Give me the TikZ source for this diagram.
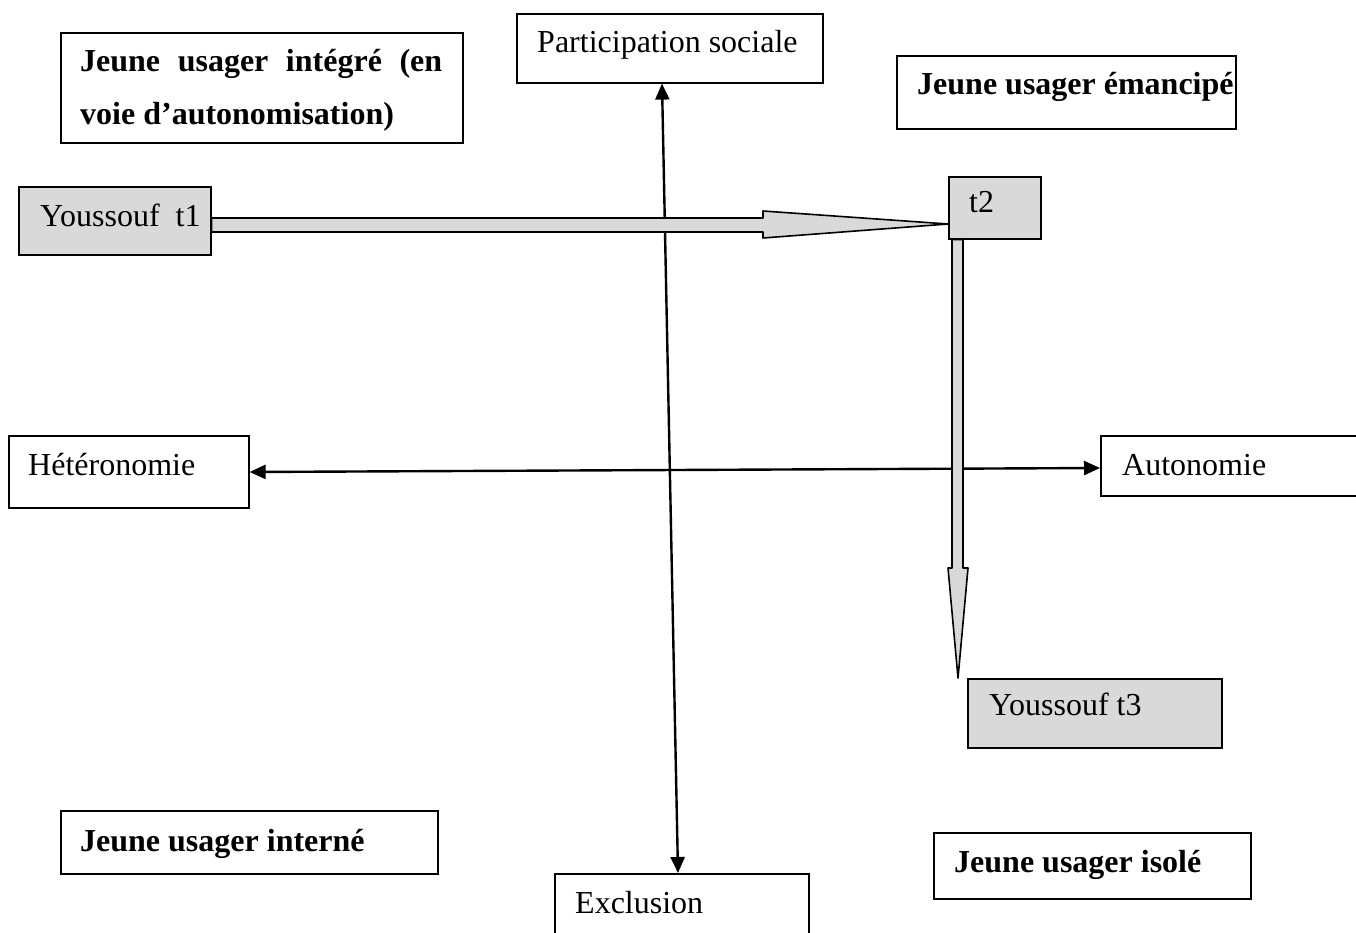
\documentclass[tikz,border=0pt]{standalone}
\usepackage{fontspec}
\setmainfont{Liberation Serif}
\usetikzlibrary{arrows.meta,calc}
\definecolor{boxgray}{HTML}{D9D9D9}
\begin{document}
\begin{tikzpicture}[x=1pt,y=-1pt,
  frame/.style={draw, line width=1.6pt, inner sep=0pt, anchor=north west},
  shaded/.style={frame, fill=boxgray},
  lbl/.style={anchor=base west, inner sep=0pt, font=\fontsize{32}{53}\selectfont},
  blbl/.style={anchor=base west, inner sep=0pt, font=\fontsize{32}{53}\selectfont\bfseries},
  axis/.style={line width=2.4pt, {Triangle[length=16pt,width=14pt]}-{Triangle[length=16pt,width=14pt]}},
  fat/.style={draw, line width=1.6pt, fill=boxgray, line join=round}]
\useasboundingbox (0,0) rectangle (1356,933);

% frames
\node[frame, minimum width=402pt, minimum height=110pt] (integre) at (60,32) {};
\node[frame, minimum width=306pt, minimum height=69pt] (part) at (516,13) {};
\node[frame, minimum width=339pt, minimum height=73pt] (emanc) at (896,55) {};
\node[shaded, minimum width=192pt, minimum height=68pt] (y1) at (18,186) {};
\node[shaded, minimum width=92pt, minimum height=62pt] (t2) at (948,176) {};
\node[frame, minimum width=240pt, minimum height=72pt] (hetero) at (8,435) {};
\node[frame, minimum width=270pt, minimum height=60pt] (auto) at (1100,435) {};
\node[shaded, minimum width=254pt, minimum height=69pt] (y3) at (967,678) {};
\node[frame, minimum width=377pt, minimum height=63pt] (interne) at (60,810) {};
\node[frame, minimum width=254pt, minimum height=80pt] (excl) at (554,873) {};
\node[frame, minimum width=317pt, minimum height=66pt] (isole) at (933,832) {};

% texts
\node[blbl, text width=362pt, align=justify] (tintegre) at (80,72)
  {Jeune usager intégré (en\linebreak voie d’autonomisation)};
\node[lbl] (tpart) at (537,53) {Participation sociale};
\node[blbl] (temanc) at (917,95) {Jeune usager émancipé};
\node[lbl] (ty1) at (40,227) {Youssouf\ \ t1};
\node[lbl] (tt2) at (969,213) {t2};
\node[lbl] (thetero) at (28,475) {Hétéronomie};
\node[lbl] (tauto) at (1122,475) {Autonomie};
\node[lbl] (ty3) at (989,715) {Youssouf t3};
\node[blbl] (tinterne) at (80,851) {Jeune usager interné};
\node[lbl] (texcl) at (575,913) {Exclusion};
\node[blbl] (tisole) at (954,872) {Jeune usager isolé};

% axes
\draw[axis] ($(part.south west)+(146,0)$) -- ($(excl.north west)+(124,0)$);
\draw[axis] ($(hetero.north east)+(0,37)$) -- ($(auto.north west)+(0,33)$);

% wide arrows: t1 -> t2 -> t3
\draw[fat] ($(y1.north east)+(0,32)$) -- (763,218) -- (763,211)
  -- ($(t2.north west)+(0,48)$) -- (763,238) -- (763,232)
  -- ($(y1.north east)+(0,46)$) -- cycle;
\draw[fat] ($(t2.south west)+(4,0)$) -- (952,568) -- (948,568)
  -- ($(y3.north west)+(-9,0)$) -- (968,568) -- (963,568)
  -- ($(t2.south west)+(15,0)$) -- cycle;
\end{tikzpicture}
\end{document}
